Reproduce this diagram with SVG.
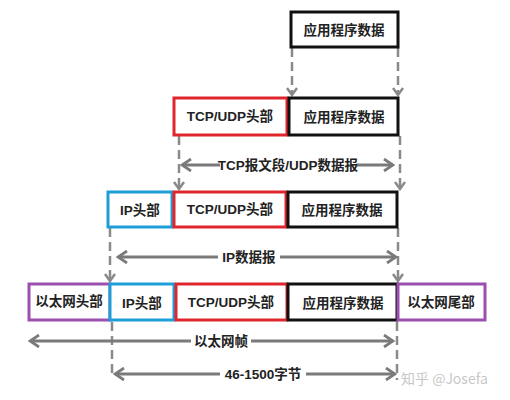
<svg xmlns="http://www.w3.org/2000/svg" width="510" height="400" viewBox="0 0 510 400">
<defs>
<style>
.box{fill:#fff;stroke-width:3}
.k{stroke:#111}.r{stroke:#e0262c}.b{stroke:#1e9ed8}.p{stroke:#9b4fae}
.t{font-family:"Liberation Sans","Noto Sans CJK SC",sans-serif;font-weight:bold;font-size:13.5px;fill:#222;text-anchor:middle}
.dim{stroke:#7a7a7a;stroke-width:3;fill:none}
.dash{stroke:#8a8a8a;stroke-width:2.5;fill:none;stroke-dasharray:9 5}
.lbl{fill:#fff}
.wm{font-family:"Noto Sans CJK SC",sans-serif;font-size:14px;fill:#c8c8c8}
</style>
<marker id="ah" viewBox="0 0 14 14" refX="12" refY="7" markerWidth="14" markerHeight="14" markerUnits="userSpaceOnUse" orient="auto-start-reverse">
<polyline points="3,1 12,7 3,13" fill="none" stroke="#7a7a7a" stroke-width="2.8"/>
</marker>
<marker id="dh" viewBox="0 0 12 12" refX="10" refY="6" markerWidth="12" markerHeight="12" markerUnits="userSpaceOnUse" orient="auto">
<polyline points="3,1 10,6 3,11" fill="none" stroke="#8a8a8a" stroke-width="2.5"/>
</marker>
</defs>
<rect width="510" height="400" fill="#fff"/>
<g id="connectors">
<line class="dash" x1="292" y1="48" x2="292" y2="95" marker-end="url(#dh)"/>
<line class="dash" x1="398" y1="48" x2="398" y2="95" marker-end="url(#dh)"/>
<line class="dash" x1="179" y1="136" x2="179" y2="189" marker-end="url(#dh)"/>
<line class="dash" x1="400" y1="136" x2="400" y2="189" marker-end="url(#dh)"/>
<line class="dash" x1="110" y1="228" x2="110" y2="281" marker-end="url(#dh)"/>
<line class="dash" x1="398" y1="228" x2="398" y2="281" marker-end="url(#dh)"/>
<line class="dash" x1="112" y1="322" x2="112" y2="376"/>
<line class="dash" x1="397" y1="322" x2="397" y2="380"/>
<line class="dim" x1="182" y1="165" x2="393" y2="165" marker-start="url(#ah)" marker-end="url(#ah)"/>
<line class="dim" x1="118" y1="257" x2="396" y2="257" marker-start="url(#ah)" marker-end="url(#ah)"/>
<line class="dim" x1="30" y1="341" x2="393" y2="341" marker-start="url(#ah)" marker-end="url(#ah)"/>
<line class="dim" x1="115" y1="374" x2="395" y2="374" marker-start="url(#ah)" marker-end="url(#ah)"/>
<rect class="lbl" x="220" y="155" width="136" height="20"/>
<text class="t" x="288" y="170">TCP报文段/UDP数据报</text>
<rect class="lbl" x="218" y="247" width="62" height="20"/>
<text class="t" x="249" y="262">IP数据报</text>
<rect class="lbl" x="191" y="331" width="60" height="20"/>
<text class="t" x="221" y="346">以太网帧</text>
<rect class="lbl" x="220" y="364" width="86" height="20"/>
<text class="t" x="263" y="379">46-1500字节</text>
</g>
<g id="app1"><rect class="box k" x="291" y="12" width="107" height="35"/><text class="t" x="344" y="35">应用程序数据</text></g>
<g id="tcp2"><rect class="box r" x="174" y="98" width="113" height="37"/><text class="t" x="230" y="121">TCP/UDP头部</text></g>
<g id="app2"><rect class="box k" x="289" y="98" width="109" height="37"/><text class="t" x="344" y="122">应用程序数据</text></g>
<g id="ip3"><rect class="box b" x="108" y="192" width="64" height="35"/><text class="t" x="140" y="215">IP头部</text></g>
<g id="tcp3"><rect class="box r" x="174" y="192" width="112" height="35"/><text class="t" x="230" y="214">TCP/UDP头部</text></g>
<g id="app3"><rect class="box k" x="288" y="192" width="109" height="35"/><text class="t" x="342" y="215">应用程序数据</text></g>
<g id="eth4"><rect class="box p" x="29" y="284" width="81" height="36"/><text class="t" x="69" y="306">以太网头部</text></g>
<g id="ip4"><rect class="box b" x="110" y="284" width="64" height="36"/><text class="t" x="142" y="308">IP头部</text></g>
<g id="tcp4"><rect class="box r" x="176" y="284" width="111" height="36"/><text class="t" x="231" y="307">TCP/UDP头部</text></g>
<g id="app4"><rect class="box k" x="288" y="284" width="109" height="36"/><text class="t" x="343" y="308">应用程序数据</text></g>
<g id="tail4"><rect class="box p" x="398" y="284" width="87" height="36"/><text class="t" x="441" y="307">以太网尾部</text></g>
<text class="wm" x="401" y="384">知乎 @Josefa</text>
</svg>
